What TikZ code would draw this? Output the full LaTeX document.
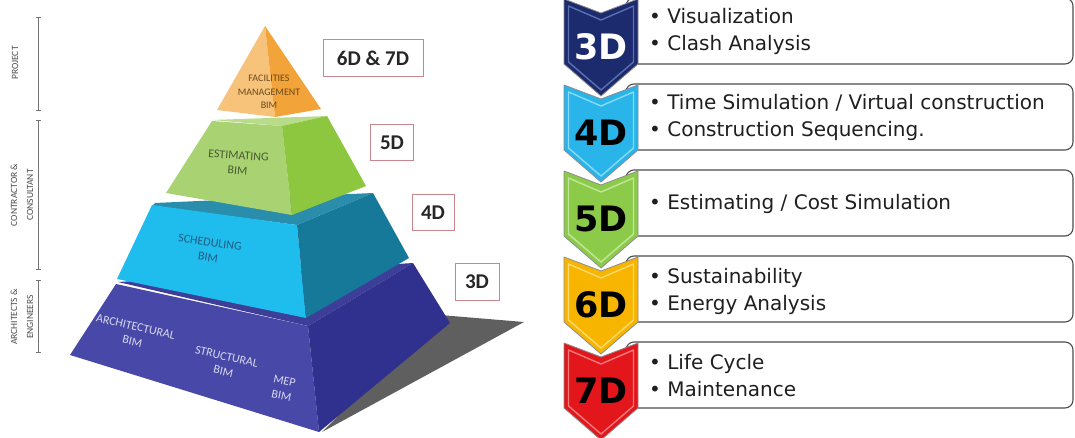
\documentclass[tikz,border=0pt]{standalone}
\usepackage{fontspec}
\setmainfont{DejaVu Sans}
\newfontfamily\carl{Carlito}
\usetikzlibrary{arrows.meta}
\definecolor{orL}{HTML}{F7C27A}
\definecolor{orR}{HTML}{F2A33A}
\definecolor{grT}{HTML}{B8DC8A}
\definecolor{grF}{HTML}{A9D373}
\definecolor{grR}{HTML}{8DC63F}
\definecolor{blT}{HTML}{2A8DAC}
\definecolor{blF}{HTML}{1FBDED}
\definecolor{blR}{HTML}{16799A}
\definecolor{puT}{HTML}{3D3E98}
\definecolor{puF}{HTML}{4748A8}
\definecolor{puR}{HTML}{30318F}
\definecolor{shad}{HTML}{5F5F5F}
\definecolor{boxred}{HTML}{C9868C}
\definecolor{dimtext}{HTML}{262626}
\definecolor{facT}{HTML}{6B4A1A}
\definecolor{estT}{HTML}{4A5A30}
\definecolor{schT}{HTML}{1F5C80}
\definecolor{baseT}{HTML}{D8D8F0}
\definecolor{c3}{HTML}{1C2A6E}
\definecolor{c3b}{HTML}{5A70B0}
\definecolor{c4}{HTML}{29B4EA}
\definecolor{c4b}{HTML}{8ADBF7}
\definecolor{c5}{HTML}{8CCB4A}
\definecolor{c5b}{HTML}{C4E69A}
\definecolor{c6}{HTML}{F7B500}
\definecolor{c6b}{HTML}{FBDB70}
\definecolor{c7}{HTML}{E3161B}
\definecolor{c7b}{HTML}{F47A7C}
\tikzset{
 face/.style={line join=round},
 lay/.style={align=center, inner sep=0pt},
 laytext/.style={lay, font=\carl\fontsize{12}{15}\selectfont},
 dimbox/.style={draw=boxred, fill=white, line width=1pt, inner sep=0pt,
   font=\carl\bfseries\fontsize{21}{21}\selectfont, text=dimtext},
 sidelab/.style={font=\carl\fontsize{9.5}{16}\selectfont, text=black!70, align=center, inner sep=0pt},
 bracket/.style={draw=black!55, line width=0.8pt, {Bar[width=5pt]}-{Bar[width=5pt]}},
 infobox/.style={draw=black!70, fill=white, line width=1.1pt, rounded corners=8pt},
 chevron/.style={draw=black!45, line width=0.8pt, line join=round},
 chevtext/.style={font=\bfseries\fontsize{35}{35}\selectfont, inner sep=0pt},
 bullets/.style={font=\fontsize{20}{27}\selectfont, align=left, anchor=west, inner sep=0pt, text=black!88},
}
\begin{document}
\begin{tikzpicture}[x=1pt,y=-1pt]
\useasboundingbox (0,0) rectangle (1075,438);
\fill[white] (0,0) rectangle (1075,438);

% ---- left side labels
\draw[bracket] (38,17) -- (38,111);
\draw[bracket] (38,120) -- (38,270);
\draw[bracket] (38,280) -- (38,353);
\node[sidelab, rotate=90] (proj) at (15,63) {PROJECT};
\node[sidelab, rotate=90] (cc) at (22,195) {CONTRACTOR \&\\CONSULTANT};
\node[sidelab, rotate=90] (ae) at (22,317) {ARCHITECTS \&\\ENGINEERS};

% ---- pyramid
% shadow
\fill[shad] (440,315) -- (524,322) -- (322,432) -- cycle;
% base (purple)
\fill[puT, face] (118,282) -- (413,263) -- (308,326) -- cycle;
\fill[puF, face] (116,284) -- (308,326) -- (319,432) -- (70,355) -- cycle;
\fill[puR, face] (308,326) -- (413,263) -- (450,323) -- (319,432) -- cycle;
% scheduling (blue)
\fill[blT, face] (155,203) -- (373,193) -- (297,225) -- (152,206) -- cycle;
\fill[blF, face] (152,205) -- (297,225) -- (306,318) -- (117,279) -- cycle;
\fill[blR, face] (297,225) -- (373,193) -- (409,258) -- (306,318) -- cycle;
% estimating (green)
\fill[grT, face] (212,120) -- (327,116) -- (282,126) -- cycle;
\fill[grF, face] (212,121) -- (282,126) -- (292,215) -- (166,193) -- cycle;
\fill[grR, face] (282,126) -- (327,116) -- (366,186) -- (292,215) -- cycle;
% facilities (orange)
\fill[orL, face] (265,26) -- (217,110) -- (275,117) -- cycle;
\fill[orR, face] (265,26) -- (275,117) -- (321,109) -- cycle;

\node[lay, text=facT, font=\carl\fontsize{10}{13.5}\selectfont] (fm) at (269,92) {FACILITIES\\MANAGEMENT\\BIM};
\node[laytext, rotate=-4, text=estT] (est) at (238,163) {ESTIMATING\\BIM};
\node[laytext, rotate=-8, text=schT] (sch) at (209,250) {SCHEDULING\\BIM};
\node[laytext, rotate=-13, text=baseT] (arch) at (134,334) {ARCHITECTURAL\\BIM};
\node[laytext, rotate=-13, text=baseT] (str) at (225,364) {STRUCTURAL\\BIM};
\node[laytext, rotate=-12, text=baseT] (mep) at (283,388) {MEP\\BIM};

% dimension label boxes
\node[dimbox, minimum width=100pt, minimum height=37pt] (d67) at (373,58) {6D \& 7D};
\node[dimbox, minimum width=43pt, minimum height=36pt] (d5) at (392,143) {5D};
\node[dimbox, minimum width=42pt, minimum height=36pt] (d4) at (433,213) {4D};
\node[dimbox, minimum width=44pt, minimum height=37pt] (d3) at (477,282) {3D};

% ---- right side: info boxes
\foreach \y in {-1,85,171,257,343}{
  \draw[infobox] (626,\y-1) rectangle (1073,\y+65);
}
% chevrons, bottom first
\foreach \y/\c/\b/\t/\tc in {343/c7/c7b/7D/black, 257/c6/c6b/6D/black, 171/c5/c5b/5D/black, 85/c4/c4b/4D/black, -1/c3/c3b/3D/white}{
  \draw[chevron, fill=\c] (564,\y) -- (601,\y+14) -- (638,\y) -- (638,\y+65) -- (601,\y+97) -- (564,\y+65) -- cycle;
  \draw[\b, line width=1.4pt, line join=round] (568.5,\y+7) -- (601,\y+21) -- (633.5,\y+7) -- (633.5,\y+63) -- (601,\y+91) -- (568.5,\y+63) -- cycle;
  \node[chevtext, text=\tc] (chev\t) at (601,\y+48) {\t};
}

% bullet texts
\node[bullets] (t3) at (649,31) {• Visualization\\• Clash Analysis};
\node[bullets] (t4) at (649,117) {• Time Simulation / Virtual construction\\• Construction Sequencing.};
\node[bullets] (t5) at (649,204) {• Estimating / Cost Simulation};
\node[bullets] (t6) at (649,291) {• Sustainability\\• Energy Analysis};
\node[bullets] (t7) at (649,376) {• Life Cycle\\• Maintenance};
\end{tikzpicture}
\end{document}
